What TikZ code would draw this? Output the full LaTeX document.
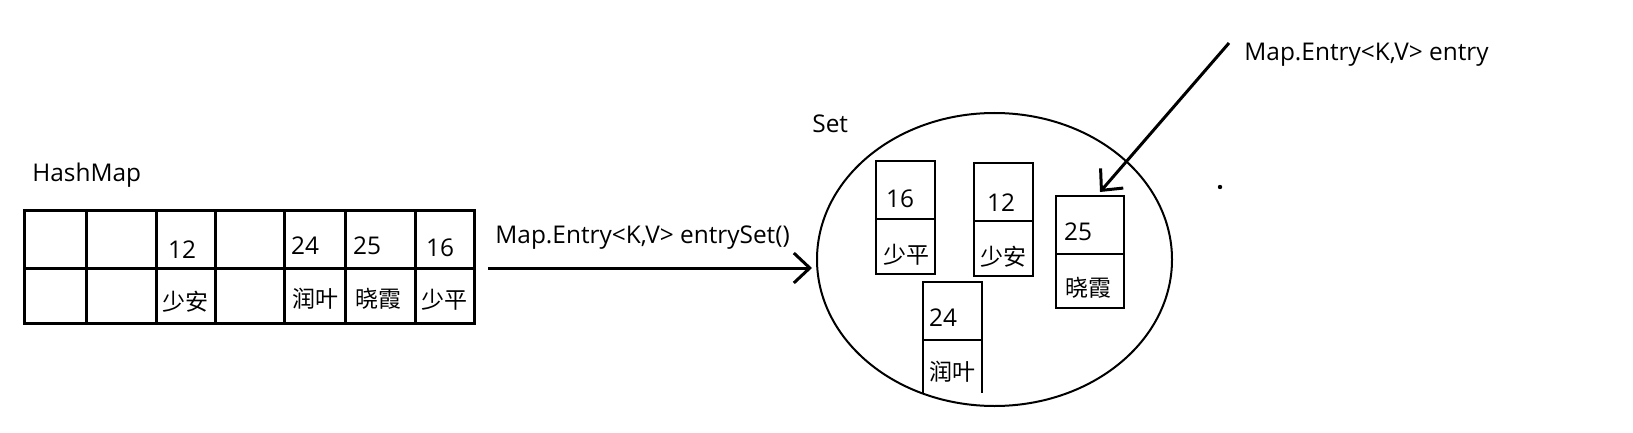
\documentclass[tikz,border=0pt]{standalone}
\usepackage{fontspec}
\setmainfont{Open Sans}
\newfontfamily\cjk{Noto Sans CJK SC}
\usetikzlibrary{shapes.geometric,arrows.meta}

\begin{document}
\begin{tikzpicture}[
  x=0.5pt, y=-0.5pt,
  every node/.style={inner sep=0pt, font=\fontsize{12.2}{14}\selectfont},
  han/.style={font=\fontsize{11.5}{13}\selectfont\cjk},
  grid/.style={draw, line width=1.5pt},
  box/.style={draw, line width=1.4pt},
  flow/.style={draw, line width=1.5pt, -{Straight Barb[length=8pt, width=15pt]}}]

  \useasboundingbox (0,0) rectangle (1633,433);

  %% ---------------- the hash map ----------------
  \node[anchor=base west] (hm) at (32,182) {HashMap};
  % table: two rows, seven columns
  \draw[grid] (24,210) rectangle (474,323);
  \draw[grid] (24,268) -- (474,268);
  \foreach \cx in {86,156,215,284,345,415}
    \draw[grid] (\cx,210) -- (\cx,323);
  % keys
  \node (t12) at (182,250) {12};
  \node (t24) at (305,246) {24};
  \node (t25) at (367,246) {25};
  \node (t16) at (440,248) {16};
  % values
  \node[han] (tsa) at (185,302) {少安};
  \node[han] (try) at (315,299) {润叶};
  \node[han] (txx) at (378,299) {晓霞};
  \node[han] (tsp) at (444,300) {少平};

  %% ---------------- entrySet() ----------------
  \coordinate (from) at (488,268);
  \coordinate (into) at (812,268);
  \draw[flow] (from) -- (into);
  \node[anchor=base west] (call) at (495,243) {Map.Entry<K,V> entrySet()};

  %% ---------------- the set ----------------
  \node[ellipse, draw, line width=1pt, minimum width=177.5pt,
        minimum height=146.5pt] (set) at (994.5,259.5) {};
  \node[anchor=base west] (setname) at (812,133) {Set};
  % entry 16 / 少平
  \draw[box] (876,161) rectangle (935,274);
  \draw[box] (876,219) -- (935,219);
  \node (s16) at (900,199) {16};
  \node[han] (ssp) at (906,255) {少平};
  % entry 12 / 少安
  \draw[box] (974,163) rectangle (1033,276);
  \draw[box] (974,221) -- (1033,221);
  \node (s12) at (1001,203) {12};
  \node[han] (ssa) at (1003,257) {少安};
  % entry 25 / 晓霞
  \draw[box] (1056,196) rectangle (1124,308);
  \draw[box] (1056,254) -- (1124,254);
  \node (s25) at (1078,232) {25};
  \node[han] (sxx) at (1088,288) {晓霞};
  % entry 24 / 润叶, open at the bottom
  \draw[box] (923,393) -- (923,282) -- (982,282) -- (982,393);
  \draw[box] (923,340) -- (982,340);
  \node (s24) at (943,318) {24};
  \node[han] (sry) at (952,372) {润叶};

  %% ---------------- one entry ----------------
  \node[anchor=base west] (entry) at (1244,61) {Map.Entry<K,V> entry};
  \coordinate (efrom) at (1229,43);
  \coordinate (eto) at (1100,192);
  \draw[flow] (efrom) -- (eto);
  % stray dot
  \fill (1220,187) circle (1.1pt);

\end{tikzpicture}
\end{document}
